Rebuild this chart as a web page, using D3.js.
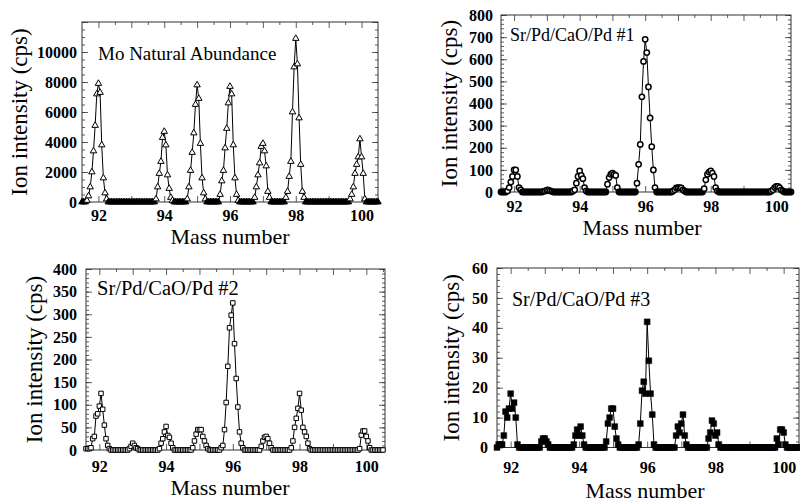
<!DOCTYPE html>
<html>
<head>
<meta charset="utf-8">
<script src="https://cdn.jsdelivr.net/npm/d3@7"></script>
<style>
	body { margin: 0; background: #fff; }
	svg { display: block; }
</style>
</head>
<body>
<svg id="chart" width="800" height="502"></svg>
<script>
"use strict";

// scan grid: 91.50 .. 100.50 amu, 0.05 step (181 readings)
var massStart = 91.5,
	massStep = 0.05;

// one row per mass unit, row m covers m-0.50 .. m+0.45
var moNatural = [
	[0,0,0,100,400,1000,2000,3400,5100,7200,7900,7300,3800,1600,600,200,0,0,0,0],   // 92
	[0,0,0,0,0,0,0,0,0,0,0,0,0,0,0,0,0,0,0,0],                                      // 93
	[0,0,0,0,0,200,1000,1900,2700,4300,4700,3800,1800,900,300,100,0,0,0,0],         // 94
	[0,0,0,0,200,1000,2100,3300,4600,6500,7800,6900,3900,1600,600,200,0,0,0,0],     // 95
	[0,0,0,0,500,1400,2100,3600,4900,6600,7700,7200,3800,1600,500,100,0,0,0,0],     // 96
	[0,0,0,0,0,300,1000,1800,2600,3700,3900,3400,2400,700,300,0,0,0,0,0],           // 97
	[0,0,0,0,300,700,1700,2700,6000,9000,10900,9200,5600,2500,700,300,0,0,0,0],     // 98
	[0,0,0,0,0,0,0,0,0,0,0,0,0,0,0,0,0,0,0,0],                                      // 99
	[0,0,0,200,500,1000,1900,2500,3000,4200,3000,1900,200,0,0,0,0,0,0,0],           // 100
	[0]
].flat();

var srSample1 = [
	[0,0,0,0,0,0,5,20,45,70,100,100,70,20,10,0,0,0,0,0],
	[0,0,0,0,0,0,0,0,3,5,8,8,5,3,0,0,0,0,0,0],
	[0,0,0,0,0,0,5,10,40,70,95,75,60,20,5,0,0,0,0,0],
	[0,0,0,0,0,0,0,35,65,80,85,80,75,20,0,0,0,0,0,0],
	[0,0,0,0,0,40,125,215,430,590,690,630,475,335,205,100,20,0,0,0],
	[0,0,0,0,0,0,0,5,10,18,20,20,18,10,5,0,0,0,0,0],
	[0,0,0,0,0,0,15,55,80,90,95,85,70,20,5,0,0,0,0,0],
	[0,0,0,0,0,0,0,0,0,0,0,0,0,0,0,0,0,0,0,0],
	[0,0,0,0,0,0,0,5,10,20,25,25,20,10,5,0,0,0,0,0],
	[0]
].flat();

var srSample2 = [
	[0,0,3,3,3,5,25,30,75,80,97,125,90,55,25,10,3,0,0,0],
	[0,0,0,0,0,0,0,0,3,8,15,10,5,3,0,0,0,0,0,0],
	[0,0,0,0,0,0,3,15,25,40,52,32,28,15,5,0,0,0,0,0],
	[0,0,0,0,0,0,5,20,35,45,45,45,30,20,10,3,0,0,0,0],
	[0,0,0,5,10,45,105,185,270,298,325,235,158,95,40,15,5,0,0,0],
	[0,0,0,0,0,0,0,8,20,28,30,25,15,5,0,0,0,0,0,0],
	[0,0,0,0,0,5,20,50,70,92,125,88,50,40,30,15,3,0,0,0],
	[0,0,0,0,0,0,0,0,0,0,0,0,0,0,0,0,0,0,0,0],
	[0,0,0,0,0,0,3,33,42,42,30,20,5,0,0,0,0,0,0,0],
	[0]
].flat();

var srSample3 = [
	[0,0,0,1,1,1,4,12,10,13,18,13,15,10,1,0,0,0,0,0],
	[0,0,0,0,0,0,0,0,2,3,3,2,1,0,0,0,0,0,0,0],
	[0,0,0,0,0,0,0,1,4,6,4,7,4,1,0,0,0,0,0,0],
	[0,0,0,0,0,0,2,8,10,13,13,7,3,1,0,0,0,0,0,0],
	[0,0,0,0,0,1,8,19,22,18,42,29,18,11,1,0,0,0,0,0],
	[0,0,0,0,0,0,0,4,7,5,8,11,4,1,0,0,0,0,0,0],
	[0,0,0,0,0,0,3,5,9,8,4,5,1,0,0,0,0,0,0,0],
	[0,0,0,0,0,0,0,0,0,0,0,0,0,0,0,0,0,0,0,0],
	[0,0,0,0,0,0,3,1,6,6,5,1,0,0,0,0,0,0,0,0],
	[0]
].flat();

var panelTitles = ["Mo Natural Abundance", "Sr/Pd/CaO/Pd #1", "Sr/Pd/CaO/Pd #2", "Sr/Pd/CaO/Pd #3"];
var yLimits = [12000, 800, 400, 60];
var yLabelSteps = [2000, 100, 50, 10];
var yMinorSteps = [500, 20, 10, 2];
var xLabelTicks = [92, 94, 96, 98, 100];

// layout only
var panels = [
	{ values: moNatural, marker: "triangle", box: [82, 22, 378, 202], xDomain: [91.5, 100.5], yLabelMax: 10000,
		title: [98, 60, 19], xPad: 8, yPad: 5, yTitleX: 27, xTitle: [230, 244] },
	{ values: srSample1, marker: "circle", box: [501, 15, 791, 192], xDomain: [91.6, 100.45], yLabelMax: 800,
		title: [510, 41, 18], xPad: 9, yPad: 8, yTitleX: 457, xTitle: [642, 235] },
	{ values: srSample2, marker: "square", box: [86, 269, 385, 450], xDomain: [91.6, 100.56], yLabelMax: 400,
		title: [97, 295, 20.5], xPad: 11, yPad: 9, yTitleX: 42, xTitle: [230, 495] },
	{ values: srSample3, marker: "filled", box: [497, 268, 799, 447.5], xDomain: [91.6, 100.45], yLabelMax: 60,
		title: [512, 306, 20], xPad: 14, yPad: 9, yTitleX: 459, xTitle: [645, 498] }
];

var serif = "'Liberation Serif'";
var svg = d3.select("#chart");

// zeroFill: the baseline readings are so close they merge into a solid bar
var markerShape = {
	triangle: { type: d3.symbolTriangle, size: 18, fill: "#fff", zeroFill: "#000", stroke: 1 },
	circle: { type: d3.symbolCircle, size: 22, fill: "#fff", zeroFill: "#000", stroke: 1.5 },
	square: { type: d3.symbolSquare, size: 20, fill: "#fff", zeroFill: "#fff", stroke: 1 },
	filled: { type: d3.symbolSquare, size: 34, fill: "#000", zeroFill: "#000", stroke: 0.5 }
};

var styleAxis = function(g, withText) {
	g.select(".domain").remove();
	g.selectAll(".tick line").attr("stroke", "#333").attr("stroke-width", 0.8);
	if (withText) {
		g.selectAll("text")
			.style("font-family", serif)
			.style("font-size", "16px")
			.style("font-weight", "bold")
			.attr("fill", "#000");
	} else {
		g.selectAll("text").remove();
	}
};

panels.forEach(function(p, k) {
	var x0 = p.box[0], y0 = p.box[1], x1 = p.box[2], y1 = p.box[3];

	var x = d3.scaleLinear().domain(p.xDomain).range([x0, x1]);
	var y = d3.scaleLinear().domain([0, yLimits[k]]).range([y1, y0]);

	var points = p.values.map(function(v, i) {
		return { mass: massStart + i * massStep, cps: v };
	}).filter(function(d) {
		return d.mass >= p.xDomain[0] - 1e-6 && d.mass <= p.xDomain[1] + 1e-6;
	});

	var g = svg.append("g").attr("class", "panel-" + k);

	var xMajor = d3.range(92, 101, 1),
		xMinor = d3.range(91.5, 101, 0.5).filter(function(v) { return v % 1 !== 0 && v > p.xDomain[0] && v < p.xDomain[1]; }),
		yMajor = d3.range(0, yLimits[k] + 1e-9, yLabelSteps[k]),
		yMinor = d3.range(0, yLimits[k] + 1e-9, yMinorSteps[k]);

	// minor ticks, all four sides
	g.append("g").attr("transform", "translate(0," + y1 + ")")
		.call(d3.axisBottom(x).tickValues(xMinor).tickSize(-3)).call(styleAxis, false);
	g.append("g").attr("transform", "translate(0," + y0 + ")")
		.call(d3.axisTop(x).tickValues(xMinor).tickSize(-3)).call(styleAxis, false);
	g.append("g").attr("transform", "translate(" + x0 + ",0)")
		.call(d3.axisLeft(y).tickValues(yMinor).tickSize(-3)).call(styleAxis, false);
	g.append("g").attr("transform", "translate(" + x1 + ",0)")
		.call(d3.axisRight(y).tickValues(yMinor).tickSize(-3)).call(styleAxis, false);

	// major ticks + labels
	g.append("g").attr("transform", "translate(0," + y1 + ")")
		.call(d3.axisBottom(x).tickValues(xMajor).tickSize(-6).tickPadding(p.xPad)
			.tickFormat(function(d) { return xLabelTicks.indexOf(d) >= 0 ? d : ""; }))
		.call(styleAxis, true);
	g.append("g").attr("transform", "translate(0," + y0 + ")")
		.call(d3.axisTop(x).tickValues(xMajor).tickSize(-6)).call(styleAxis, false);
	g.append("g").attr("transform", "translate(" + x0 + ",0)")
		.call(d3.axisLeft(y).tickValues(yMajor).tickSize(-6).tickPadding(p.yPad)
			.tickFormat(function(d) { return d <= p.yLabelMax ? d : ""; }))
		.call(styleAxis, true);
	g.append("g").attr("transform", "translate(" + x1 + ",0)")
		.call(d3.axisRight(y).tickValues(yMajor).tickSize(-6)).call(styleAxis, false);

	g.append("rect")
		.attr("x", x0).attr("y", y0)
		.attr("width", x1 - x0).attr("height", y1 - y0)
		.attr("fill", "none")
		.attr("stroke", "#333")
		.attr("stroke-width", 1);

	var line = d3.line()
		.x(function(d) { return x(d.mass); })
		.y(function(d) { return y(d.cps); });

	g.append("path")
		.datum(points)
		.attr("d", line)
		.attr("fill", "none")
		.attr("stroke", "#000")
		.attr("stroke-width", 1);

	var m = markerShape[p.marker];
	g.append("g").selectAll("path")
		.data(points)
		.enter()
		.append("path")
		.attr("d", d3.symbol().type(m.type).size(m.size))
		.attr("transform", function(d) { return "translate(" + x(d.mass) + "," + y(d.cps) + ")"; })
		.attr("fill", function(d) { return d.cps === 0 ? m.zeroFill : m.fill; })
		.attr("stroke", "#000")
		.attr("stroke-width", m.stroke);

	g.append("text")
		.attr("x", p.title[0]).attr("y", p.title[1])
		.style("font-family", serif)
		.style("font-size", p.title[2] + "px")
		.text(panelTitles[k]);

	g.append("text")
		.attr("transform", "translate(" + p.yTitleX + "," + (y0 + y1) / 2 + ") rotate(-90)")
		.attr("text-anchor", "middle")
		.style("font-family", serif)
		.style("font-size", "23px")
		.text("Ion intensity (cps)");

	g.append("text")
		.attr("x", p.xTitle[0]).attr("y", p.xTitle[1])
		.attr("text-anchor", "middle")
		.style("font-family", serif)
		.style("font-size", "22px")
		.text("Mass number");
});
</script>
</body>
</html>
